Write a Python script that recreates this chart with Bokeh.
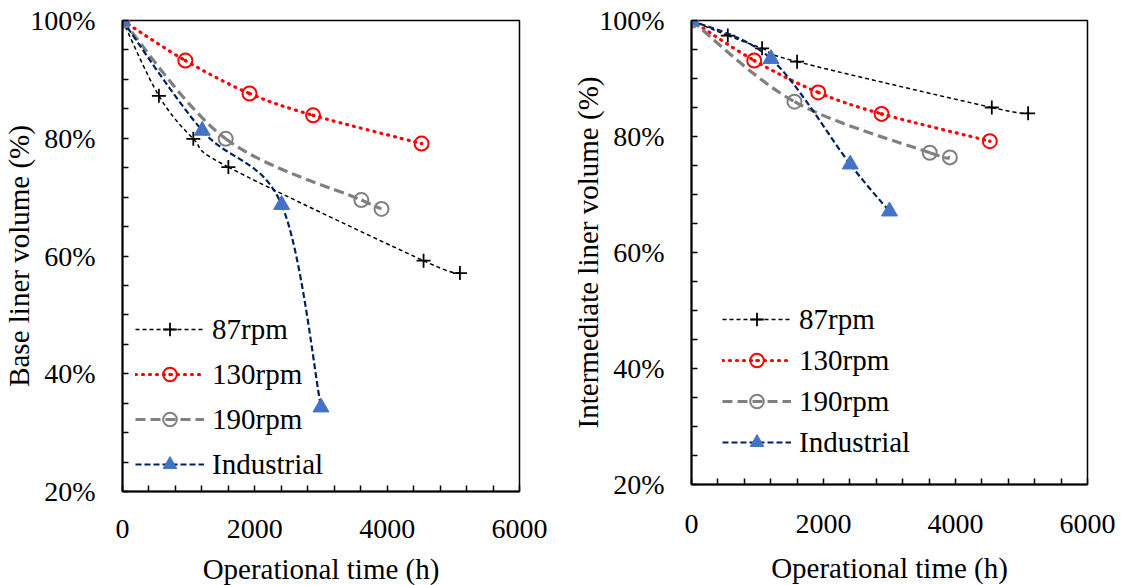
import numpy as np
from bokeh.plotting import figure
from bokeh.models import (FixedTicker, PrintfTickFormatter, Legend, LegendItem,
                          Range1d, ColumnDataSource)
from bokeh.layouts import row
from bokeh.embed import file_html
from bokeh.resources import INLINE

# ---------------- data ----------------
series_names = ["87rpm", "130rpm", "190rpm", "Industrial"]

t_87 = [0, 550, 1070, 1600, 4550, 5100]
t_130 = [0, 950, 1920, 2880, 4520]
t_190 = [0, 1560, 3610, 3915]
t_ind = [0, 1205, 2405, 3000]

base_87 = [100, 87.2, 79.9, 75.1, 59.2, 57.1]
base_130 = [100, 93.2, 87.6, 83.9, 79.1]
base_190 = [100, 79.9, 69.5, 68.0]
base_ind = [100, 81.3, 68.7, 34.3]

inter_87 = [100, 97.4, 95.2, 92.9, 85.0, 84.0]
inter_130 = [100, 93.1, 87.6, 83.9, 79.2]
inter_190 = [100, 86.0, 77.2, 76.4]
inter_ind = [100, 93.4, 75.2, 67.1]

x_ticks = [0, 2000, 4000, 6000]
y_ticks = [20, 40, 60, 80, 100]
x_label = "Operational time (h)"
y_label_left = "Base liner volume (%)"
y_label_right = "Intermediate liner volume (%)"

FONT = "Liberation Serif"

STYLES = {
    "87rpm": dict(color="#000000", width=1.5, dash="4 3", marker="cross",
                  size=14, fill=None, mline=1.8),
    "130rpm": dict(color="#FF0000", width=3.2, dash="1 6", marker="circle_dot",
                   size=14, fill=None, mline=2.0),
    "190rpm": dict(color="#808080", width=3.2, dash="10 5", marker="circle",
                   size=14, fill=None, mline=2.0),
    "Industrial": dict(color="#002060", width=2.2, dash="6 3", marker="triangle",
                       size=16, fill="#4472C4", mline=1.0),
}


def smooth_source(x, y):
    """Bezier control points (Excel-like smoothed line) from the data points."""
    x = np.asarray(x, float)
    y = np.asarray(y, float)
    n = len(x)
    d = dict(x0=[], y0=[], x1=[], y1=[], cx0=[], cy0=[], cx1=[], cy1=[])
    for i in range(n - 1):
        a = i - 1 if i > 0 else i
        b = i + 2 if i + 2 < n else i + 1
        d["x0"].append(x[i]); d["y0"].append(y[i])
        d["x1"].append(x[i + 1]); d["y1"].append(y[i + 1])
        d["cx0"].append(x[i] + (x[i + 1] - x[a]) / 6.0)
        d["cy0"].append(y[i] + (y[i + 1] - y[a]) / 6.0)
        d["cx1"].append(x[i + 1] - (x[b] - x[i]) / 6.0)
        d["cy1"].append(y[i + 1] - (y[b] - y[i]) / 6.0)
    return ColumnDataSource(d)


def make_panel(ylabel, data, fw, fh, bl, br, bt, bb, legend_loc, legend_spacing,
               xtick_standoff, xlabel_standoff):
    p = figure(frame_width=fw, frame_height=fh,
               min_border_left=bl, min_border_right=br,
               min_border_top=bt, min_border_bottom=bb,
               x_range=Range1d(0, 6000), y_range=Range1d(20, 100),
               output_backend="svg", toolbar_location=None,
               background_fill_color="white", border_fill_color="white")
    p.xgrid.visible = False
    p.ygrid.visible = False
    p.outline_line_color = "black"
    p.outline_line_width = 1.5

    x_minor = [v for v in range(400, 6000, 400) if v % 2000 != 0]
    y_minor = [v for v in range(25, 100, 5) if v % 20 != 0]
    p.xaxis.ticker = FixedTicker(ticks=x_ticks, minor_ticks=x_minor)
    p.yaxis.ticker = FixedTicker(ticks=y_ticks, minor_ticks=y_minor)
    p.yaxis.formatter = PrintfTickFormatter(format="%d%%")

    for ax in (p.xaxis[0], p.yaxis[0]):
        ax.axis_line_width = 2
        ax.axis_line_color = "black"
        ax.major_tick_in = 6
        ax.major_tick_out = 0
        ax.minor_tick_in = 6
        ax.minor_tick_out = 0
        ax.major_tick_line_width = 1.5
        ax.minor_tick_line_width = 1.5
        ax.major_label_text_font = FONT
        ax.major_label_text_font_size = "28px"
        ax.major_label_text_color = "black"
        ax.axis_label_text_font = FONT
        ax.axis_label_text_font_size = "29px"
        ax.axis_label_text_font_style = "normal"
        ax.axis_label_text_color = "black"

    p.xaxis.axis_label = x_label
    p.yaxis.axis_label = ylabel
    p.xaxis.major_label_standoff = xtick_standoff
    p.xaxis.axis_label_standoff = xlabel_standoff
    p.yaxis.major_label_standoff = 27
    p.yaxis.axis_label_standoff = -8

    items = []
    for name, (tx, vy) in zip(series_names, data):
        st = STYLES[name]
        cap = "round" if name == "130rpm" else "butt"
        src = smooth_source(tx, vy)
        p.bezier(x0="x0", y0="y0", x1="x1", y1="y1", cx0="cx0", cy0="cy0",
                 cx1="cx1", cy1="cy1", source=src, line_color=st["color"],
                 line_width=st["width"], line_dash=st["dash"], line_cap=cap)
        leg_line = p.line(x=np.array([np.nan]), y=np.array([np.nan]),
                          line_color=st["color"], line_width=st["width"],
                          line_dash=st["dash"], line_cap=cap)
        if st["fill"] is None:
            sc = p.scatter(x=tx, y=vy, marker=st["marker"], size=st["size"],
                           line_color=st["color"], line_width=st["mline"],
                           fill_color="white", fill_alpha=0)
        else:
            sc = p.scatter(x=tx, y=vy, marker=st["marker"], size=st["size"],
                           line_color=st["fill"], line_width=st["mline"],
                           fill_color=st["fill"])
        items.append(LegendItem(label=name, renderers=[leg_line, sc]))

    leg = Legend(items=items, location=legend_loc)
    leg.padding = 0
    leg.margin = 0
    leg.border_line_alpha = 0
    leg.background_fill_alpha = 0
    leg.label_text_font = FONT
    leg.label_text_font_size = "29px"
    leg.label_text_color = "black"
    leg.glyph_width = 69
    leg.glyph_height = 34
    leg.label_height = 34
    leg.label_standoff = 8
    leg.spacing = legend_spacing
    p.add_layout(leg)
    return p


left = make_panel(y_label_left,
                  [(t_87, base_87), (t_130, base_130), (t_190, base_190), (t_ind, base_ind)],
                  fw=397, fh=471, bl=114, br=50, bt=14, bb=101,
                  legend_loc=(13, 10), legend_spacing=11,
                  xtick_standoff=28, xlabel_standoff=12)
right = make_panel(y_label_right,
                   [(t_87, inter_87), (t_130, inter_130), (t_190, inter_190), (t_ind, inter_ind)],
                   fw=396, fh=464, bl=118, br=30, bt=20, bb=108,
                   legend_loc=(31, 25), legend_spacing=7,
                   xtick_standoff=30, xlabel_standoff=16)

layout = row(left, right)
open("out.html", "w").write(file_html(layout, INLINE))
